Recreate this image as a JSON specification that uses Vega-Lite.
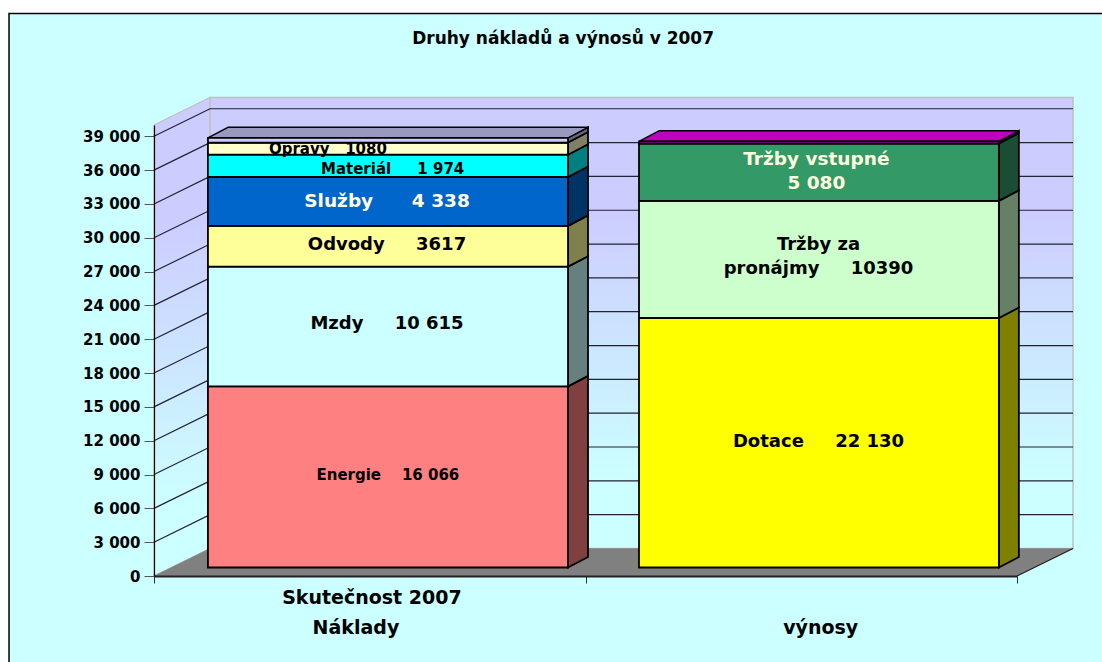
{
"$schema":"https://vega.github.io/schema/vega-lite/v6.json",
"width":863,"height":451,
"autosize":{"type":"none"},
"padding":{"left":154,"top":125,"right":85,"bottom":86},
"background":"#ffffff",
"config":{"view":{"stroke":null},"text":{"font":"DejaVu Sans","fontWeight":"bold"}},
"datasets":{
"frame":[{"px":-0.336,"px2":2.3,"py":49890,"py2":-9000}],
"sidewall":[{"px":0,"py":40000,"py2":0},{"px":0.1298,"py":42440,"py2":2440}],
"backwall":[{"px":0.1298,"px2":2.1298,"py":42440,"py2":2440}],
"floor":[{"px":0,"px2":2,"py":0},{"px":0.1298,"px2":2.1298,"py":2440}],
"grid":[{"v":3000},{"v":6000},{"v":9000},{"v":12000},{"v":15000},{"v":18000},{"v":21000},{"v":24000},{"v":27000},{"v":30000},{"v":33000},{"v":36000},{"v":39000}],
"bars":[
{"sloupec":"Náklady","polozka":"Energie","start":0,"end":16066},
{"sloupec":"Náklady","polozka":"Mzdy","start":16066,"end":26681},
{"sloupec":"Náklady","polozka":"Odvody","start":26681,"end":30298},
{"sloupec":"Náklady","polozka":"Služby","start":30298,"end":34636},
{"sloupec":"Náklady","polozka":"Materiál","start":34636,"end":36610},
{"sloupec":"Náklady","polozka":"Opravy","start":36610,"end":37690},
{"sloupec":"Náklady","polozka":"Ostatní","start":37690,"end":38110},
{"sloupec":"výnosy","polozka":"Dotace","start":0,"end":22130},
{"sloupec":"výnosy","polozka":"Tržby za pronájmy","start":22130,"end":32520},
{"sloupec":"výnosy","polozka":"Tržby vstupné","start":32520,"end":37600},
{"sloupec":"výnosy","polozka":"Ostatní výnosy","start":37600,"end":37800}
],
"labels":[
{"k":"s","t":"Energie\u00A0\u00A0\u00A0\u00A016 066","px":0.542,"py":8950},
{"k":"b","t":"Mzdy\u00A0\u00A0\u00A0\u00A0\u00A010 615","px":0.54,"py":22340},
{"k":"b","t":"Odvody\u00A0\u00A0\u00A0\u00A0\u00A03617","px":0.54,"py":29400},
{"k":"w","t":"Služby\u00A0\u00A0\u00A0\u00A0\u00A0\u00A04 338","px":0.54,"py":33290},
{"k":"s","t":"Materiál\u00A0\u00A0\u00A0\u00A0\u00A01 974","px":0.553,"py":36110},
{"k":"w","t":"Tržby vstupné\n\u00A0\u00A0\u00A0\u00A0\u00A0\u00A05 080","px":1.535,"py":37000},
{"k":"b","t":"Tržby za\npronájmy\u00A0\u00A0\u00A0\u00A0\u00A010390","px":1.54,"py":29400},
{"k":"b","t":"Dotace\u00A0\u00A0\u00A0\u00A0\u00A022 130","px":1.54,"py":11900}
],
"opravy":[{"t":"Opravy\u00A0\u00A0\u00A01080","px":0.403,"py":37900}],
"heads":[
{"k":"t","t":"Druhy nákladů a výnosů v 2007","px":0.948,"py":47627},
{"k":"a","t":"Skutečnost 2007","px":0.505,"py":-1951},
{"k":"a","t":"Náklady","px":0.468,"py":-4612},
{"k":"a","t":"výnosy","px":1.545,"py":-4612}
]
},
"encoding":{
"x":{"field":"px","type":"quantitative","title":null,"scale":{"domain":[0,2],"nice":false,"zero":false},
"axis":{"values":[0,1,2],"labels":false,"grid":false,"tickSize":7,"tickColor":"#333333","domainColor":"#222222","domainWidth":2,"zindex":1,"title":null}},
"y":{"field":"py","type":"quantitative","title":null,"scale":{"domain":[0,40000],"nice":false,"zero":false},
"axis":{"values":[0,3000,6000,9000,12000,15000,18000,21000,24000,27000,30000,33000,36000,39000],"labelExpr":"replace(format(datum.value,','),',',' ')","labelFont":"DejaVu Sans","labelFontWeight":"bold","labelFontSize":15,"labelColor":"#000000","labelPadding":4,"grid":false,"tickSize":10,"tickColor":"#555555","domainColor":"#000000","domainWidth":1.2,"zindex":1,"title":null}}
},
"layer":[
{"data":{"name":"frame"},"mark":{"type":"rect","fill":"#CCFFFF","stroke":"#000000","strokeWidth":1.5},
 "encoding":{"x2":{"field":"px2"},"y2":{"field":"py2"}}},
{"data":{"name":"sidewall"},"mark":{"type":"area","orient":"vertical","stroke":"#C0C0C0","strokeWidth":1.2,"fill":{"gradient":"linear","x1":0,"y1":0,"x2":0,"y2":1,"stops":[{"offset":0,"color":"#CCCCFF"},{"offset":0.25,"color":"#CCCCFF"},{"offset":0.85,"color":"#CCFFFF"},{"offset":1,"color":"#CCFFFF"}]}},
 "encoding":{"y2":{"field":"py2"}}},
{"data":{"name":"backwall"},"mark":{"type":"rect","stroke":"#C0C0C0","strokeWidth":1.5,"fill":{"gradient":"linear","x1":0,"y1":0,"x2":0,"y2":1,"stops":[{"offset":0,"color":"#CCCCFF"},{"offset":0.25,"color":"#CCCCFF"},{"offset":0.85,"color":"#CCFFFF"},{"offset":1,"color":"#CCFFFF"}]}},
 "encoding":{"x2":{"field":"px2"},"y2":{"field":"py2"}}},
{"data":{"name":"floor"},"mark":{"type":"area","orient":"horizontal","fill":"#808080","stroke":"#808080","strokeWidth":0.5},
 "encoding":{"x2":{"field":"px2"}}},
{"data":{"name":"grid"},
 "transform":[{"calculate":"[0,0.1298,2.1298]","as":"gx"},{"flatten":["gx"]},{"calculate":"datum.gx","as":"px"},{"calculate":"datum.v+(datum.gx>0?2440:0)","as":"py"}],
 "mark":{"type":"line","stroke":"#222233","strokeWidth":1.2,"interpolate":"linear"},
 "encoding":{"detail":{"field":"v"}}},
{"data":{"values":[{"px":2,"py":0},{"px":2.1298,"py":2440}]},"mark":{"type":"line","stroke":"#222222","strokeWidth":1.2}},
{"data":{"name":"bars"},
 "transform":[{"calculate":"[0,1]","as":"t"},{"flatten":["t"]},{"calculate":"(datum.sloupec=='výnosy'?1.958:0.9595)+datum.t*0.0463","as":"px"},{"calculate":"datum.start+754+datum.t*931","as":"py"},{"calculate":"datum.end+754+datum.t*931","as":"py2"}],
 "mark":{"type":"area","orient":"vertical","stroke":"#000000","strokeWidth":1.8},
 "encoding":{"y2":{"field":"py2"},"color":{"field":"polozka","type":"nominal","legend":null,
  "scale":{"domain":["Energie","Mzdy","Odvody","Služby","Materiál","Opravy","Ostatní","Dotace","Tržby za pronájmy","Tržby vstupné","Ostatní výnosy"],"range":["#804040","#668080","#80804D","#003366","#008080","#808066","#666680","#808000","#668066","#1A4D33","#660066"]}}}},
{"data":{"name":"bars"},
 "transform":[{"filter":"datum.polozka=='Ostatní'||datum.polozka=='Ostatní výnosy'"},{"calculate":"[0,1]","as":"t"},{"flatten":["t"]},{"calculate":"(datum.sloupec=='výnosy'?1.124:0.125)+datum.t*0.0463","as":"px"},{"calculate":"(datum.sloupec=='výnosy'?1.958:0.9595)+datum.t*0.0463","as":"px2"},{"calculate":"datum.end+754+datum.t*931","as":"py"}],
 "mark":{"type":"area","orient":"horizontal","stroke":"#000000","strokeWidth":1.5},
 "encoding":{"x2":{"field":"px2"},"color":{"field":"polozka","type":"nominal","legend":null,"scale":{"domain":["Ostatní","Ostatní výnosy"],"range":["#9999BF","#C000C0"]}}}},
{"data":{"name":"bars"},
 "transform":[{"calculate":"datum.sloupec=='výnosy'?1.124:0.125","as":"px"},{"calculate":"datum.sloupec=='výnosy'?1.958:0.9595","as":"px2"},{"calculate":"datum.start+754","as":"py"},{"calculate":"datum.end+754","as":"py2"}],
 "mark":{"type":"rect","stroke":"#000000","strokeWidth":1.8},
 "encoding":{"x2":{"field":"px2"},"y2":{"field":"py2"},"color":{"field":"polozka","type":"nominal","legend":null,
  "scale":{"domain":["Energie","Mzdy","Odvody","Služby","Materiál","Opravy","Ostatní","Dotace","Tržby za pronájmy","Tržby vstupné","Ostatní výnosy"],"range":["#FF8080","#CCFFFF","#FFFF99","#0066CC","#00FFFF","#FFFFCC","#CCCCFF","#FFFF00","#CCFFCC","#339966","#CC00CC"]}}}},
{"data":{"name":"opravy"},"mark":{"type":"text","font":"DejaVu Sans","fontWeight":"bold","fontSize":15,"color":"#000000"},"encoding":{"text":{"field":"t"}}},
{"data":{"name":"bars"},
 "transform":[{"filter":"datum.polozka=='Ostatní'"},{"calculate":"0.125","as":"px"},{"calculate":"0.9595","as":"px2"},{"calculate":"datum.start+754","as":"py"},{"calculate":"datum.end+754","as":"py2"}],
 "mark":{"type":"rect","stroke":"#000000","strokeWidth":1.8,"fill":"#CCCCFF"},
 "encoding":{"x2":{"field":"px2"},"y2":{"field":"py2"}}},
{"data":{"name":"labels"},"transform":[{"filter":"datum.k=='b'"}],"mark":{"type":"text","fontSize":18,"font":"DejaVu Sans","fontWeight":"bold","color":"#000000","lineBreak":"\n","lineHeight":24},"encoding":{"text":{"field":"t"}}},
{"data":{"name":"labels"},"transform":[{"filter":"datum.k=='w'"}],"mark":{"type":"text","fontSize":18.5,"font":"DejaVu Sans","fontWeight":"bold","color":"#FFFFE0","lineBreak":"\n","lineHeight":24},"encoding":{"text":{"field":"t"}}},
{"data":{"name":"labels"},"transform":[{"filter":"datum.k=='s'"}],"mark":{"type":"text","fontSize":15,"font":"DejaVu Sans","fontWeight":"bold","color":"#000000"},"encoding":{"text":{"field":"t"}}},
{"data":{"name":"heads"},"transform":[{"filter":"datum.k=='t'"}],"mark":{"type":"text","fontSize":17,"font":"DejaVu Sans","fontWeight":"bold","color":"#000000"},"encoding":{"text":{"field":"t"}}},
{"data":{"name":"heads"},"transform":[{"filter":"datum.k=='a'"}],"mark":{"type":"text","fontSize":19,"font":"DejaVu Sans","fontWeight":"bold","color":"#000000"},"encoding":{"text":{"field":"t"}}}
],
"resolve":{"scale":{"color":"independent"}}
}
